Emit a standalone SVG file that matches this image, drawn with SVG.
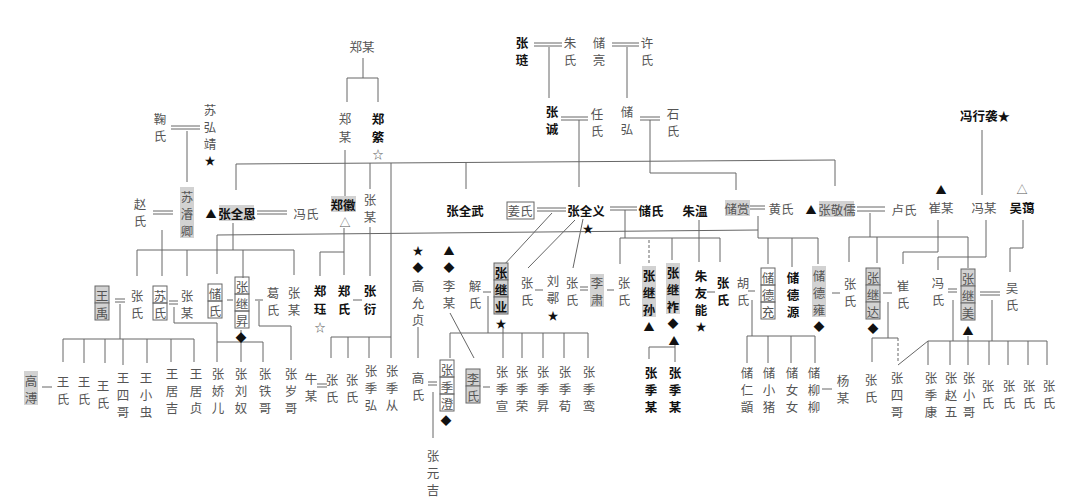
<svg xmlns="http://www.w3.org/2000/svg" width="1080" height="501" viewBox="0 0 1080 501">
<style>
.t{font-family:"Noto Sans CJK SC","Noto Sans CJK TC",sans-serif;font-size:12.5px;fill:#555;text-anchor:middle;dominant-baseline:central}
.b{font-weight:bold;fill:#111}
.s{font-size:11px;fill:#111}
.ln{stroke:#666;stroke-width:1;fill:none}
.dl{stroke:#666;stroke-width:1;fill:none;stroke-dasharray:3 2}
.hl{fill:#d2d2d2}
.bx{fill:none;stroke:#666;stroke-width:1}
.hb{fill:#d2d2d2;stroke:#666;stroke-width:1}
</style>
<rect width="1080" height="501" fill="#fff"/>

<g id="connectors">
<path class="ln" d="M363,58V78M347,78H378M347,78V102M378,78V102"/>
<path class="ln" d="M534,43H562M534,46H562M549,47V98"/>
<path class="ln" d="M612,43H639M612,46H639M627,47V98"/>
<path class="ln" d="M561,117H588M561,120H588M579,120V187"/>
<path class="ln" d="M640,117H660M640,120H660M650,120V173H736V190"/>
<path class="ln" d="M236,164L835,160M236,164V190M835,160V186M370,163V189M466,162V189M391,163V358"/>
<path class="ln" d="M345,150V196"/>
<path class="ln" d="M171,126H200M171,129H200M187,131V182"/>
<path class="ln" d="M982,130V195"/>
<path class="ln" d="M153,211H173M153,214H173M162,230V276"/>
<path class="ln" d="M257,211H287M257,214H287M233,223V250M137,250H294M137,250V276M187,250V276M243,250V278M294,250V275"/>
<path class="ln" d="M217,274V235L758,230"/>
<path class="ln" d="M344,228V275M320,252H344M320,252V276M370,227V276"/>
<path class="ln" d="M537,208H566M537,211H566M552,213L503,266M575,220L528,268M583,219L573,268"/>
<path class="ln" d="M610,207H637M610,210H637M625,210V238M620,238H720M620,238V264M672,238V260M720,238V262"/>
<path class="dl" d="M649,240V263"/>
<path class="ln" d="M699,220V262"/>
<path class="ln" d="M750,206H765M750,209H765M758,216V238H818V264M768,238V264M792,238V267"/>
<path class="ln" d="M857,207H885M857,211H885M870,213V237M849,237H968M849,237V262M877,237V263M968,237V268"/>
<path class="ln" d="M938,220V252H903V264"/>
<path class="ln" d="M986,220V257H938V270"/>
<path class="ln" d="M1023,220V248H1010V272"/>
<path class="ln" d="M115,299H125M115,302H125M169,301H178M169,304H178M227,300H233M255,300H263M353,300H362M483,292H491M535,290H543M580,287H588M580,290H588M607,290H614M707,292H715M748,291H755M832,293H840M883,293H892M948,289H957M948,292H957M980,292H1000M980,295H1000"/>
<path class="ln" d="M120,304V339M63,339H194M63,339V362M84,339V363M105,339V363M123,339V365M147,339V363M171,339V362M194,339V362"/>
<path class="ln" d="M174,307V323H217V362"/>
<path class="ln" d="M241,330V362M217,342H263M263,342V362"/>
<path class="ln" d="M259,301V326H291V360"/>
<path class="ln" d="M331,337H391M331,337V358M348,337V358M369,337V358"/>
<path class="ln" d="M418,327V358M433,392V438"/>
<path class="ln" d="M450,313L474,358"/>
<path class="ln" d="M503,328V358M450,333H588M450,333V358M522,333V358M543,333V358M564,333V358M588,333V358M488,296V333"/>
<path class="ln" d="M675,345V362M649,347H675M649,347V359"/>
<path class="ln" d="M752,300V336M747,336H815M747,336V363M768,336V363M791,336V363M815,336V363"/>
<path class="ln" d="M888,302V338M872,338H898M872,338V362"/>
<path class="dl" d="M898,338V363"/>
<path class="ln" d="M898,365L928,341"/>
<path class="ln" d="M953,300V341M992,300V341M928,341H1047M928,341V365M950,341V365M968,336V365M989,341V365M1008,341V365M1028,341V365M1047,341V365"/>
<path class="ln" d="M822,389H832M42,387H52M317,384H327M317,387H327M428,382H437M428,385H437M483,387H490"/>
</g>

<g id="n-zhengmou-top"><text class="t" x="362" y="46">郑某</text></g>
<g id="n-zhengmou"><text class="t"><tspan x="345" y="118">郑</tspan><tspan x="345" y="136">某</tspan></text></g>
<g id="n-zhengqi"><text class="t b"><tspan x="378" y="118">郑</tspan><tspan x="378" y="136">綮</tspan></text><text class="t s" x="378" y="154" style="fill:#555">☆</text></g>
<g id="n-zhanglian"><text class="t b"><tspan x="522" y="42">张</tspan><tspan x="522" y="59">琏</tspan></text></g>
<g id="n-zhushi"><text class="t"><tspan x="570" y="42">朱</tspan><tspan x="570" y="59">氏</tspan></text></g>
<g id="n-chuliang"><text class="t"><tspan x="599" y="42">储</tspan><tspan x="599" y="59">亮</tspan></text></g>
<g id="n-xushi"><text class="t"><tspan x="647" y="42">许</tspan><tspan x="647" y="59">氏</tspan></text></g>
<g id="n-zhangcheng"><text class="t b"><tspan x="552" y="111">张</tspan><tspan x="552" y="128">诚</tspan></text></g>
<g id="n-renshi"><text class="t"><tspan x="597" y="113">任</tspan><tspan x="597" y="130">氏</tspan></text></g>
<g id="n-chuhong"><text class="t"><tspan x="627" y="111">储</tspan><tspan x="627" y="128">弘</tspan></text></g>
<g id="n-shishi"><text class="t"><tspan x="673" y="113">石</tspan><tspan x="673" y="130">氏</tspan></text></g>
<g id="n-jushi"><text class="t"><tspan x="160" y="118">鞠</tspan><tspan x="160" y="135">氏</tspan></text></g>
<g id="n-suhongjing"><text class="t"><tspan x="210" y="109">苏</tspan><tspan x="210" y="126">弘</tspan><tspan x="210" y="143">靖</tspan></text><text class="t s" x="210" y="160">★</text></g>
<g id="n-fengxingxi"><text class="t b" x="985" y="115">冯行袭★</text></g>

<g id="n-zhaoshi"><text class="t"><tspan x="140" y="203">赵</tspan><tspan x="140" y="220">氏</tspan></text></g>
<g id="n-sujunqing"><rect class="hl" x="180" y="187" width="14" height="51"/><text class="t"><tspan x="187" y="196">苏</tspan><tspan x="187" y="213">濬</tspan><tspan x="187" y="230">卿</tspan></text></g>
<g id="n-zhangquanen"><rect class="hl" x="219" y="205" width="35" height="16"/><text class="t s" x="211" y="213">▲</text><text class="t b" x="237" y="213">张全恩</text></g>
<g id="n-fengshi1"><text class="t" x="306" y="213">冯氏</text></g>
<g id="n-zhenghui"><rect class="hl" x="331" y="196" width="25" height="16"/><text class="t b" x="343" y="204">郑徽</text><text class="t s" x="345" y="222" style="fill:#555">△</text></g>
<g id="n-zhangmou1"><text class="t"><tspan x="370" y="199">张</tspan><tspan x="370" y="216">某</tspan></text></g>
<g id="n-zhangquanwu"><text class="t b" x="465" y="210">张全武</text></g>
<g id="n-jiangshi"><rect class="bx" x="507" y="202" width="27" height="17"/><text class="t" x="520" y="210">姜氏</text></g>
<g id="n-zhangquanyi"><text class="t b" x="586" y="210">张全义</text><text class="t s" x="588" y="228">★</text></g>
<g id="n-chushi1"><text class="t b" x="651" y="210">储氏</text></g>
<g id="n-zhuwen"><text class="t b" x="695" y="210">朱温</text></g>
<g id="n-chushang"><rect class="hl" x="725" y="200" width="25" height="16"/><text class="t" x="737" y="208">储赏</text></g>
<g id="n-huangshi"><text class="t" x="781" y="208">黄氏</text></g>
<g id="n-zhangjingru"><rect class="hl" x="819" y="201" width="35" height="16"/><text class="t s" x="811" y="209">▲</text><text class="t" x="837" y="209">张敬儒</text></g>
<g id="n-lushi"><text class="t" x="904" y="209">卢氏</text></g>
<g id="n-cuimou"><text class="t s" x="941" y="189">▲</text><text class="t" x="941" y="207">崔某</text></g>
<g id="n-fengmou"><text class="t" x="984" y="207">冯某</text></g>
<g id="n-wuai"><text class="t s" x="1022" y="189" style="fill:#555">△</text><text class="t b" x="1022" y="207">吴蔼</text></g>

<g id="n-wangyu"><rect class="hb" x="95" y="286" width="14" height="17"/><rect class="hb" x="95" y="303" width="14" height="17"/><text class="t"><tspan x="102" y="295">王</tspan><tspan x="102" y="312">禹</tspan></text></g>
<g id="n-zhangshi-a"><text class="t"><tspan x="137" y="295">张</tspan><tspan x="137" y="312">氏</tspan></text></g>
<g id="n-sushi"><rect class="bx" x="153" y="286" width="14" height="17"/><rect class="bx" x="153" y="303" width="14" height="17"/><text class="t"><tspan x="160" y="295">苏</tspan><tspan x="160" y="312">氏</tspan></text></g>
<g id="n-zhangmou-a"><text class="t"><tspan x="187" y="295">张</tspan><tspan x="187" y="312">某</tspan></text></g>
<g id="n-chushi2"><rect class="bx" x="208" y="284" width="14" height="17"/><rect class="bx" x="208" y="301" width="14" height="17"/><text class="t"><tspan x="215" y="293">储</tspan><tspan x="215" y="310">氏</tspan></text></g>
<g id="n-zhangjisheng"><rect class="bx" x="235" y="277" width="14" height="17"/><rect class="bx" x="235" y="294" width="14" height="17"/><rect class="bx" x="235" y="311" width="14" height="17"/><text class="t"><tspan x="242" y="286">张</tspan><tspan x="242" y="303">继</tspan><tspan x="242" y="320">昇</tspan></text><text class="t s" x="241" y="337">◆</text></g>
<g id="n-geshi"><text class="t"><tspan x="273" y="292">葛</tspan><tspan x="273" y="309">氏</tspan></text></g>
<g id="n-zhangmou-b"><text class="t"><tspan x="294" y="292">张</tspan><tspan x="294" y="309">某</tspan></text></g>
<g id="n-zhengjue"><text class="t b"><tspan x="320" y="290">郑</tspan><tspan x="320" y="308">珏</tspan></text><text class="t s" x="320" y="327" style="fill:#555">☆</text></g>
<g id="n-zhengshi"><text class="t b"><tspan x="344" y="290">郑</tspan><tspan x="344" y="308">氏</tspan></text></g>
<g id="n-zhangyan"><text class="t b"><tspan x="370" y="290">张</tspan><tspan x="370" y="308">衍</tspan></text></g>
<g id="n-gaoyunzhen"><text class="t s" x="418" y="250">★</text><text class="t s" x="418" y="267">◆</text><text class="t"><tspan x="418" y="285">高</tspan><tspan x="418" y="302">允</tspan><tspan x="418" y="319">贞</tspan></text></g>
<g id="n-limou"><text class="t s" x="449" y="250">▲</text><text class="t s" x="449" y="267">◆</text><text class="t"><tspan x="449" y="285">李</tspan><tspan x="449" y="302">某</tspan></text></g>
<g id="n-xieshi"><text class="t"><tspan x="475" y="285">解</tspan><tspan x="475" y="302">氏</tspan></text></g>
<g id="n-zhangjiye"><rect class="hb" x="494" y="263" width="14" height="17"/><rect class="hb" x="494" y="280" width="14" height="17"/><rect class="hb" x="494" y="297" width="14" height="17"/><text class="t b"><tspan x="501" y="272">张</tspan><tspan x="501" y="289">继</tspan><tspan x="501" y="306">业</tspan></text><text class="t s" x="501" y="323">★</text></g>
<g id="n-zhangshi-b"><text class="t"><tspan x="527" y="282">张</tspan><tspan x="527" y="299">氏</tspan></text></g>
<g id="n-liuxun"><text class="t"><tspan x="553" y="280">刘</tspan><tspan x="553" y="297">鄩</tspan></text><text class="t s" x="553" y="315">★</text></g>
<g id="n-zhangshi-c"><text class="t"><tspan x="572" y="282">张</tspan><tspan x="572" y="299">氏</tspan></text></g>
<g id="n-lisu"><rect class="hl" x="590" y="274" width="14" height="33"/><text class="t"><tspan x="597" y="282">李</tspan><tspan x="597" y="299">肃</tspan></text></g>
<g id="n-zhangshi-d"><text class="t"><tspan x="624" y="282">张</tspan><tspan x="624" y="299">氏</tspan></text></g>
<g id="n-zhangjisun"><rect class="hl" x="642" y="266" width="14" height="51"/><text class="t b"><tspan x="649" y="275">张</tspan><tspan x="649" y="292">继</tspan><tspan x="649" y="309">孙</tspan></text><text class="t s" x="649" y="326">▲</text></g>
<g id="n-zhangjizuo"><rect class="hl" x="666" y="263" width="14" height="51"/><text class="t b"><tspan x="673" y="272">张</tspan><tspan x="673" y="289">继</tspan><tspan x="673" y="306">祚</tspan></text><text class="t s" x="673" y="323">◆</text><text class="t s" x="674" y="340">▲</text></g>
<g id="n-zhuyouneng"><text class="t b"><tspan x="701" y="275">朱</tspan><tspan x="701" y="292">友</tspan><tspan x="701" y="309">能</tspan></text><text class="t s" x="701" y="326">★</text></g>
<g id="n-zhangshi-e"><text class="t b"><tspan x="723" y="282">张</tspan><tspan x="723" y="299">氏</tspan></text></g>
<g id="n-hushi"><text class="t"><tspan x="743" y="282">胡</tspan><tspan x="743" y="299">氏</tspan></text></g>
<g id="n-chudechong"><rect class="bx" x="761" y="268" width="14" height="17"/><rect class="bx" x="761" y="285" width="14" height="17"/><rect class="bx" x="761" y="302" width="14" height="17"/><text class="t"><tspan x="768" y="277">储</tspan><tspan x="768" y="294">德</tspan><tspan x="768" y="311">充</tspan></text></g>
<g id="n-chudeyuan"><text class="t b"><tspan x="793" y="277">储</tspan><tspan x="793" y="294">德</tspan><tspan x="793" y="311">源</tspan></text></g>
<g id="n-chudeyong"><rect class="hl" x="812" y="266" width="14" height="51"/><text class="t"><tspan x="819" y="275">储</tspan><tspan x="819" y="292">德</tspan><tspan x="819" y="309">雍</tspan></text><text class="t s" x="819" y="326">◆</text></g>
<g id="n-zhangshi-f"><text class="t"><tspan x="850" y="283">张</tspan><tspan x="850" y="300">氏</tspan></text></g>
<g id="n-zhangjida"><rect class="hb" x="866" y="268" width="14" height="17"/><rect class="hb" x="866" y="285" width="14" height="17"/><rect class="hb" x="866" y="302" width="14" height="17"/><text class="t"><tspan x="873" y="277">张</tspan><tspan x="873" y="294">继</tspan><tspan x="873" y="311">达</tspan></text><text class="t s" x="873" y="328">◆</text></g>
<g id="n-cuishi"><text class="t"><tspan x="903" y="285">崔</tspan><tspan x="903" y="302">氏</tspan></text></g>
<g id="n-fengshi2"><text class="t"><tspan x="938" y="282">冯</tspan><tspan x="938" y="299">氏</tspan></text></g>
<g id="n-zhangjimei"><rect class="hb" x="961" y="269" width="14" height="17"/><rect class="hb" x="961" y="286" width="14" height="17"/><rect class="hb" x="961" y="303" width="14" height="17"/><text class="t"><tspan x="968" y="278">张</tspan><tspan x="968" y="295">继</tspan><tspan x="968" y="312">美</tspan></text><text class="t s" x="968" y="330">▲</text></g>
<g id="n-wushi"><text class="t"><tspan x="1012" y="287">吴</tspan><tspan x="1012" y="304">氏</tspan></text></g>

<g id="n-gaopu"><rect class="hl" x="24" y="371" width="14" height="34"/><text class="t"><tspan x="31" y="380">高</tspan><tspan x="31" y="397">溥</tspan></text></g>
<g id="n-wang1"><text class="t"><tspan x="63" y="381">王</tspan><tspan x="63" y="398">氏</tspan></text></g>
<g id="n-wang2"><text class="t"><tspan x="84" y="381">王</tspan><tspan x="84" y="398">氏</tspan></text></g>
<g id="n-wang3"><text class="t"><tspan x="103" y="385">王</tspan><tspan x="103" y="402">氏</tspan></text></g>
<g id="n-wangsige"><text class="t"><tspan x="123" y="377">王</tspan><tspan x="123" y="394">四</tspan><tspan x="123" y="411">哥</tspan></text></g>
<g id="n-wangxiaochong"><text class="t"><tspan x="146" y="377">王</tspan><tspan x="146" y="394">小</tspan><tspan x="146" y="411">虫</tspan></text></g>
<g id="n-wangjuji"><text class="t"><tspan x="172" y="373">王</tspan><tspan x="172" y="390">居</tspan><tspan x="172" y="407">吉</tspan></text></g>
<g id="n-wangjuzhen"><text class="t"><tspan x="196" y="373">王</tspan><tspan x="196" y="390">居</tspan><tspan x="196" y="407">贞</tspan></text></g>
<g id="n-zhangjiaoer"><text class="t"><tspan x="218" y="373">张</tspan><tspan x="218" y="390">娇</tspan><tspan x="218" y="407">儿</tspan></text></g>
<g id="n-zhangliunu"><text class="t"><tspan x="241" y="373">张</tspan><tspan x="241" y="390">刘</tspan><tspan x="241" y="407">奴</tspan></text></g>
<g id="n-zhangtiege"><text class="t"><tspan x="265" y="373">张</tspan><tspan x="265" y="390">铁</tspan><tspan x="265" y="407">哥</tspan></text></g>
<g id="n-zhangsuige"><text class="t"><tspan x="291" y="373">张</tspan><tspan x="291" y="390">岁</tspan><tspan x="291" y="407">哥</tspan></text></g>
<g id="n-niumou"><text class="t"><tspan x="311" y="378">牛</tspan><tspan x="311" y="395">某</tspan></text></g>
<g id="n-zhangshi-g"><text class="t"><tspan x="332" y="379">张</tspan><tspan x="332" y="396">氏</tspan></text></g>
<g id="n-zhangshi-h"><text class="t"><tspan x="352" y="379">张</tspan><tspan x="352" y="396">氏</tspan></text></g>
<g id="n-zhangjihong"><text class="t"><tspan x="371" y="370">张</tspan><tspan x="371" y="387">季</tspan><tspan x="371" y="404">弘</tspan></text></g>
<g id="n-zhangjicong"><text class="t"><tspan x="392" y="370">张</tspan><tspan x="392" y="387">季</tspan><tspan x="392" y="404">从</tspan></text></g>
<g id="n-gaoshi"><text class="t"><tspan x="418" y="377">高</tspan><tspan x="418" y="394">氏</tspan></text></g>
<g id="n-zhangjicheng"><rect class="bx" x="440" y="360" width="14" height="17"/><rect class="bx" x="440" y="377" width="14" height="17"/><rect class="bx" x="440" y="394" width="14" height="17"/><text class="t"><tspan x="447" y="369">张</tspan><tspan x="447" y="386">季</tspan><tspan x="447" y="403">澄</tspan></text><text class="t s" x="446" y="420">◆</text></g>
<g id="n-lishi"><rect class="hb" x="466" y="369" width="14" height="17"/><rect class="hb" x="466" y="386" width="14" height="17"/><text class="t"><tspan x="473" y="378">李</tspan><tspan x="473" y="395">氏</tspan></text></g>
<g id="n-zhangjixuan"><text class="t"><tspan x="502" y="371">张</tspan><tspan x="502" y="388">季</tspan><tspan x="502" y="405">宣</tspan></text></g>
<g id="n-zhangjirong"><text class="t"><tspan x="522" y="371">张</tspan><tspan x="522" y="388">季</tspan><tspan x="522" y="405">荣</tspan></text></g>
<g id="n-zhangjisheng2"><text class="t"><tspan x="543" y="371">张</tspan><tspan x="543" y="388">季</tspan><tspan x="543" y="405">昇</tspan></text></g>
<g id="n-zhangjixun"><text class="t"><tspan x="565" y="371">张</tspan><tspan x="565" y="388">季</tspan><tspan x="565" y="405">荀</tspan></text></g>
<g id="n-zhangjiluan"><text class="t"><tspan x="589" y="371">张</tspan><tspan x="589" y="388">季</tspan><tspan x="589" y="405">鸾</tspan></text></g>
<g id="n-zhangjimou1"><text class="t b"><tspan x="651" y="372">张</tspan><tspan x="651" y="389">季</tspan><tspan x="651" y="406">某</tspan></text></g>
<g id="n-zhangjimou2"><text class="t b"><tspan x="675" y="372">张</tspan><tspan x="675" y="389">季</tspan><tspan x="675" y="406">某</tspan></text></g>
<g id="n-churenyi"><text class="t"><tspan x="747" y="372">储</tspan><tspan x="747" y="389">仁</tspan><tspan x="747" y="406">顗</tspan></text></g>
<g id="n-chuxiaozhu"><text class="t"><tspan x="769" y="372">储</tspan><tspan x="769" y="389">小</tspan><tspan x="769" y="406">猪</tspan></text></g>
<g id="n-chununu"><text class="t"><tspan x="792" y="372">储</tspan><tspan x="792" y="389">女</tspan><tspan x="792" y="406">女</tspan></text></g>
<g id="n-chuliuliu"><text class="t"><tspan x="814" y="372">储</tspan><tspan x="814" y="389">柳</tspan><tspan x="814" y="406">柳</tspan></text></g>
<g id="n-yangmou"><text class="t"><tspan x="843" y="380">杨</tspan><tspan x="843" y="397">某</tspan></text></g>
<g id="n-zhangshi-i"><text class="t"><tspan x="871" y="379">张</tspan><tspan x="871" y="396">氏</tspan></text></g>
<g id="n-zhangsige"><text class="t"><tspan x="897" y="377">张</tspan><tspan x="897" y="394">四</tspan><tspan x="897" y="411">哥</tspan></text></g>
<g id="n-zhangjikang"><text class="t"><tspan x="931" y="377">张</tspan><tspan x="931" y="394">季</tspan><tspan x="931" y="411">康</tspan></text></g>
<g id="n-zhangzhaowu"><text class="t"><tspan x="951" y="377">张</tspan><tspan x="951" y="394">赵</tspan><tspan x="951" y="411">五</tspan></text></g>
<g id="n-zhangxiaoge"><text class="t"><tspan x="969" y="377">张</tspan><tspan x="969" y="394">小</tspan><tspan x="969" y="411">哥</tspan></text></g>
<g id="n-zhangshi-j"><text class="t"><tspan x="988" y="385">张</tspan><tspan x="988" y="402">氏</tspan></text></g>
<g id="n-zhangshi-k"><text class="t"><tspan x="1009" y="385">张</tspan><tspan x="1009" y="402">氏</tspan></text></g>
<g id="n-zhangshi-l"><text class="t"><tspan x="1029" y="385">张</tspan><tspan x="1029" y="402">氏</tspan></text></g>
<g id="n-zhangshi-m"><text class="t"><tspan x="1049" y="385">张</tspan><tspan x="1049" y="402">氏</tspan></text></g>
<g id="n-zhangyuanji"><text class="t"><tspan x="433" y="455">张</tspan><tspan x="433" y="472">元</tspan><tspan x="433" y="489">吉</tspan></text></g>
</svg>
